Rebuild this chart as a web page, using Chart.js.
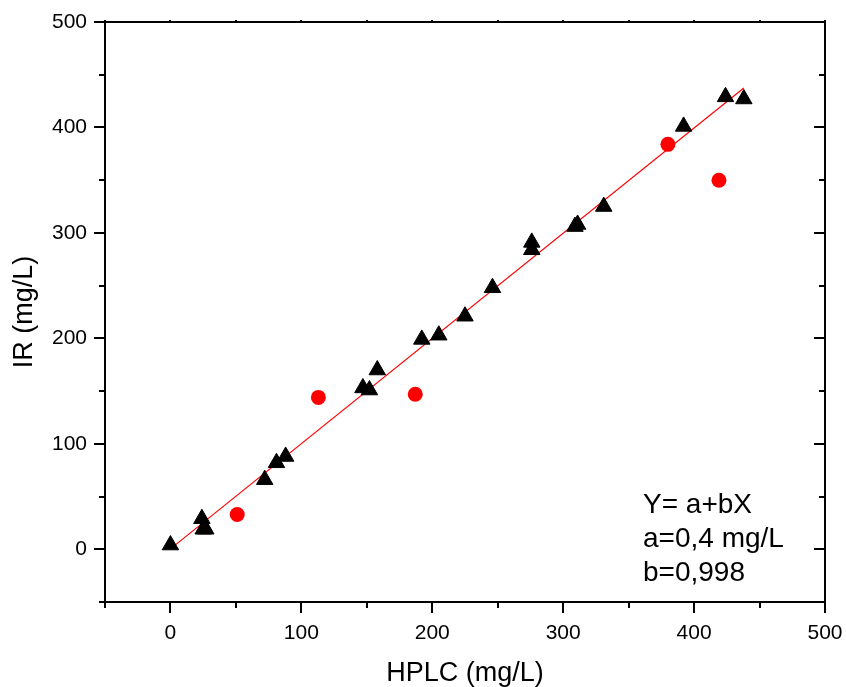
<!DOCTYPE html>
<html>
<head>
<meta charset="utf-8">
<script src="https://cdn.jsdelivr.net/npm/chart.js@4.4.1/dist/chart.umd.min.js"></script>
<style>
  html, body { margin: 0; padding: 0; background: #fff; }
  canvas { display: block; }
</style>
</head>
<body>
<canvas id="chart" width="846" height="687"></canvas>
<script>
// HPLC vs IR measurements (mg/L)
const triX = [0, 24, 25, 27, 72, 81, 88, 147, 152, 158, 192, 205, 225, 246, 276, 276, 309, 311, 331, 392, 424, 438];
const triY = [4, 29, 19, 19, 66, 82, 88, 153, 151, 170, 199, 203, 221, 248, 291, 284, 306, 308, 325, 401, 429, 427];

const dotX = [51, 113, 187, 380, 419];
const dotY = [33, 144, 147, 384, 350];

// regression line end points, Y = a + bX
const fitX = [0, 438];
const fitY = [0.4, 437.5];

const xTicks = [0, 100, 200, 300, 400, 500];
const yTicks = [0, 100, 200, 300, 400, 500];
const xMinor = [-50, 50, 150, 250, 350, 450];
const yMinor = [-50, 50, 150, 250, 350, 450];

const fitText = ['Y= a+bX', 'a=0,4 mg/L', 'b=0,998'];

const FONT = "'Liberation Sans', Arial, sans-serif";

const toPoints = (xs, ys) => xs.map((x, i) => ({ x: x, y: ys[i] }));

// frame with Origin style ticks
const framePlugin = {
    id: 'frame',
    afterDatasetsDraw(chart) {
        const { ctx, chartArea: a, scales } = chart;
        const sx = scales.x, sy = scales.y;
        ctx.save();
        ctx.strokeStyle = '#000';
        ctx.lineWidth = 2;
        ctx.strokeRect(a.left, a.top, a.right - a.left, a.bottom - a.top);

        ctx.beginPath();
        xTicks.concat(xMinor).forEach(v => {
            const px = Math.round(sx.getPixelForValue(v));
            const len = xTicks.includes(v) ? 11 : 6;
            ctx.moveTo(px, a.bottom);
            ctx.lineTo(px, a.bottom + len);
            ctx.moveTo(px, a.top);
            ctx.lineTo(px, a.top - 2);
        });
        yTicks.concat(yMinor).forEach(v => {
            const py = Math.round(sy.getPixelForValue(v));
            const len = yTicks.includes(v) ? 11 : 6;
            ctx.moveTo(a.left, py);
            ctx.lineTo(a.left - len, py);
            ctx.moveTo(a.right, py);
            ctx.lineTo(a.right - len, py);
        });
        ctx.stroke();

        // fit parameters
        ctx.fillStyle = '#000';
        ctx.font = '28px ' + FONT;
        ctx.textBaseline = 'alphabetic';
        fitText.forEach((t, i) => {
            ctx.fillText(t, a.left + 538, a.top + 491 + i * 34);
        });
        ctx.restore();
    }
};

new Chart('chart', {
    type: 'scatter',
    data: {
        datasets: [
            {
                label: 'fit',
                type: 'line',
                data: toPoints(fitX, fitY),
                borderColor: '#ff0000',
                borderWidth: 1.2,
                pointRadius: 0,
                fill: false,
                order: 3
            },
            {
                label: 'HPLC vs IR',
                data: toPoints(triX, triY),
                pointStyle: 'triangle',
                pointRadius: 9.5,
                backgroundColor: '#000',
                borderColor: '#000',
                borderWidth: 1,
                order: 1
            },
            {
                label: 'outliers',
                data: toPoints(dotX, dotY),
                pointStyle: 'circle',
                pointRadius: 7.5,
                backgroundColor: '#ff0000',
                borderColor: '#ff0000',
                borderWidth: 0,
                order: 2
            }
        ]
    },
    options: {
        responsive: false,
        animation: false,
        layout: { padding: { top: 22, right: 21, left: 0, bottom: 0 } },
        plugins: {
            legend: { display: false },
            tooltip: { enabled: false }
        },
        scales: {
            x: {
                type: 'linear',
                min: -50,
                max: 500,
                grid: { display: false, drawTicks: false },
                border: { display: false },
                afterBuildTicks: s => { s.ticks = xTicks.map(v => ({ value: v })); },
                afterFit: s => { s.height = 85; s.paddingLeft = 0; s.paddingRight = 0; },
                ticks: {
                    color: '#000',
                    padding: 19,
                    maxRotation: 0,
                    font: { family: FONT, size: 21 }
                },
                title: {
                    display: true,
                    text: 'HPLC (mg/L)',
                    color: '#000',
                    padding: { top: 0, bottom: -3 },
                    font: { family: FONT, size: 27 }
                }
            },
            y: {
                type: 'linear',
                min: -50,
                max: 500,
                grid: { display: false, drawTicks: false },
                border: { display: false },
                afterBuildTicks: s => { s.ticks = yTicks.map(v => ({ value: v })); },
                afterFit: s => { s.width = 105; s.paddingTop = 0; s.paddingBottom = 0; },
                ticks: {
                    color: '#000',
                    padding: 18,
                    font: { family: FONT, size: 21 }
                },
                title: {
                    display: true,
                    text: 'IR (mg/L)',
                    color: '#000',
                    padding: { top: 8, bottom: 0 },
                    font: { family: FONT, size: 27 }
                }
            }
        }
    },
    plugins: [framePlugin]
});
</script>
</body>
</html>
